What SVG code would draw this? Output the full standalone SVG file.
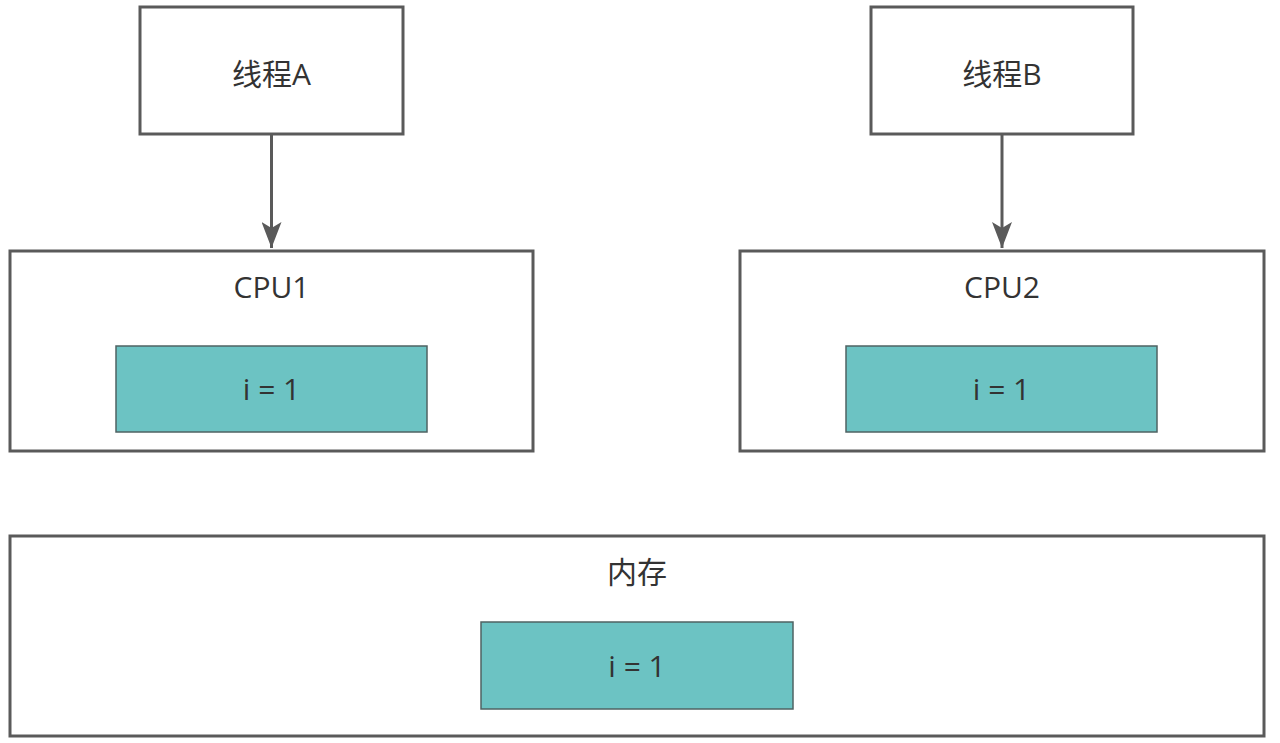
<svg xmlns="http://www.w3.org/2000/svg" width="1280" height="743" viewBox="0 0 1280 743">
<style>
.box{fill:#fff;stroke:#5a5a5a;stroke-width:3}
.val{fill:#6cc3c3;stroke:#4f6363;stroke-width:1.5}
.t{font-family:"Open Sans","Noto Sans CJK SC",sans-serif;font-size:30px;fill:#333;text-anchor:middle;dominant-baseline:central}
.c{stroke:#5a5a5a;stroke-width:3;fill:none}
</style>
<defs>
<marker id="ah" markerWidth="26" markerHeight="20" refX="26" refY="10" orient="auto" markerUnits="userSpaceOnUse">
<path d="M0,0 L26,10 L0,20 L6,10 Z" fill="#5a5a5a"/>
</marker>
</defs>
<rect width="1280" height="743" fill="#fff"/>
<g id="threadA"><rect class="box" x="140" y="7" width="263" height="127"/><text class="t" x="271.5" y="73">线程A</text></g>
<g id="threadB"><rect class="box" x="871" y="7" width="262" height="127"/><text class="t" x="1002" y="73">线程B</text></g>
<g id="cpu1"><rect class="box" x="10" y="251" width="523" height="200"/><text class="t" x="271.5" y="286">CPU1</text>
<g id="cpu1val"><rect class="val" x="116" y="346" width="311" height="86"/><text class="t" x="271.5" y="388">i = 1</text></g></g>
<g id="cpu2"><rect class="box" x="740" y="251" width="524" height="200"/><text class="t" x="1002" y="286">CPU2</text>
<g id="cpu2val"><rect class="val" x="846" y="346" width="311" height="86"/><text class="t" x="1001.5" y="388">i = 1</text></g></g>
<g id="memory"><rect class="box" x="10" y="536" width="1254" height="200"/><text class="t" x="637" y="571">内存</text>
<g id="memval"><rect class="val" x="481" y="622" width="312" height="87"/><text class="t" x="637" y="665">i = 1</text></g></g>
<g id="connectors">
<line class="c" x1="271.5" y1="135" x2="271.5" y2="248" marker-end="url(#ah)"/>
<line class="c" x1="1002" y1="135" x2="1002" y2="248" marker-end="url(#ah)"/>
</g>
</svg>
